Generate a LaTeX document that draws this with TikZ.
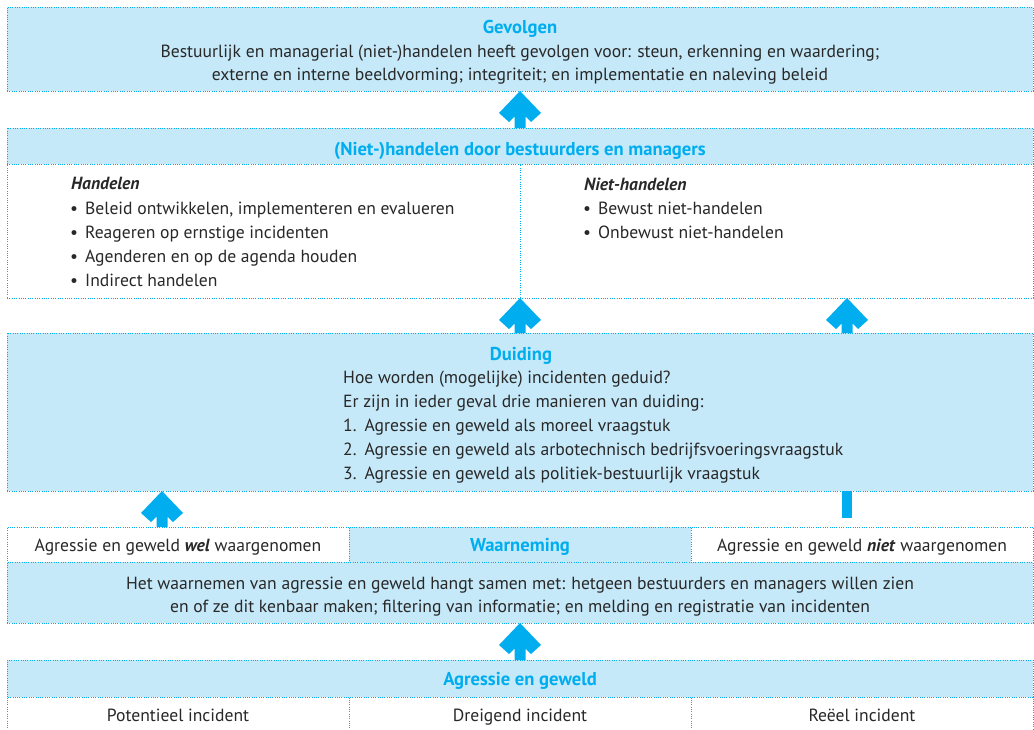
\documentclass[tikz,border=0pt]{standalone}
\usepackage{fontspec}
\setmainfont{PT Sans}
\usetikzlibrary{calc}
\definecolor{lblue}{RGB}{198,233,249}
\definecolor{tblue}{RGB}{0,174,239}
\definecolor{txt}{RGB}{40,40,40}
\tikzset{
  cell/.style={draw=tblue, dash pattern=on 0.9pt off 1.4pt, line width=0.8pt, inner sep=0pt, outer sep=0pt, anchor=north west},
  bluecell/.style={cell, fill=lblue},
  whitecell/.style={cell, fill=white},
  tx/.style={anchor=base, inner sep=0pt, text=txt, font=\fontsize{17.6}{24}\selectfont},
  txl/.style={tx, anchor=base west},
  ttl/.style={tx, text=tblue, font=\fontsize{18.6}{24}\selectfont\bfseries},
  sub/.style={txl, font=\fontsize{17.6}{24}\selectfont\bfseries\itshape},
  pics/uparr/.style={code={\fill[tblue] (0,0) -- (-21,22) -- (-11,31) -- (-5.5,25.5) -- (-5.5,#1) -- (5.5,#1) -- (5.5,25.5) -- (11,31) -- (21,22) -- cycle;}},
}
\begin{document}
\begin{tikzpicture}[x=1pt,y=-1pt]
\useasboundingbox (0,0) rectangle (1034,729);
% boxes
\node[bluecell, minimum width=1026pt, minimum height=84pt] (gev) at (7,7) {};
\node[bluecell, minimum width=1026pt, minimum height=36pt] (nhh) at (7,128) {};
\node[whitecell, minimum width=513pt, minimum height=134pt] (hand) at (7,164) {};
\node[whitecell, minimum width=513pt, minimum height=134pt] (niet) at (520,164) {};
\node[bluecell, minimum width=1026pt, minimum height=158pt] (duid) at (7,333) {};
\node[whitecell, minimum width=342pt, minimum height=35pt] (wel) at (7,527) {};
\node[bluecell, minimum width=342pt, minimum height=35pt] (waar) at (349,527) {};
\node[whitecell, minimum width=342pt, minimum height=35pt] (nwaar) at (691,527) {};
\node[bluecell, minimum width=1026pt, minimum height=61pt] (waart) at (7,562) {};
\node[bluecell, minimum width=1026pt, minimum height=37pt] (agr) at (7,660) {};
\node[whitecell, minimum width=342pt, minimum height=40pt] (pot) at (7,697) {};
\node[whitecell, minimum width=342pt, minimum height=40pt] (dre) at (349,697) {};
\node[whitecell, minimum width=342pt, minimum height=40pt] (ree) at (691,697) {};
% arrows
\pic at (gev.south) {uparr=37};
\pic at (hand.south east) {uparr=35};
\pic at ($(niet.south east)+(-186,0)$) {uparr=35};
\pic at ($(duid.south west)+(155,0)$) {uparr=36};
\fill[tblue] ($(duid.south east)+(-191,0)$) rectangle ($(duid.south east)+(-181,27)$);
\pic at (waart.south) {uparr=37};
% texts
\node[ttl] at (520,33) {Gevolgen};
\node[tx] at (520,57.3) {Bestuurlijk en managerial (niet-)handelen heeft gevolgen voor: steun, erkenning en waardering;};
\node[tx] at (520,80.5) {externe en interne beeldvorming; integriteit; en implementatie en naleving beleid};
\node[ttl] at (520,155) {(Niet-)handelen door bestuurders en managers};
\node[sub] at (71,189.5) {Handelen};
\node[txl] at (70,214.3) {•\hspace{7pt}Beleid ontwikkelen, implementeren en evalueren};
\node[txl] at (70,238.5) {•\hspace{7pt}Reageren op ernstige incidenten};
\node[txl] at (70,262.7) {•\hspace{7pt}Agenderen en op de agenda houden};
\node[txl] at (70,286.7) {•\hspace{7pt}Indirect handelen};
\node[sub] at (584,190.5) {Niet-handelen};
\node[txl] at (583,214.8) {•\hspace{7pt}Bewust niet-handelen};
\node[txl] at (583,238.5) {•\hspace{7pt}Onbewust niet-handelen};
\node[ttl] at (521,360) {Duiding};
\node[txl] at (343,383.3) {Hoe worden (mogelijke) incidenten geduid?};
\node[txl] at (343,407.3) {Er zijn in ieder geval drie manieren van duiding:};
\node[txl] at (343,431) {1.\hspace{8pt}Agressie en geweld als moreel vraagstuk};
\node[txl] at (343,455) {2.\hspace{8pt}Agressie en geweld als arbotechnisch bedrijfsvoeringsvraagstuk};
\node[txl] at (343,479) {3.\hspace{8pt}Agressie en geweld als politiek-bestuurlijk vraagstuk};
\node[tx] at (178,551.7) {Agressie en geweld \textbf{\itshape wel} waargenomen};
\node[ttl] at (520,551.7) {Waarneming};
\node[tx] at (862,551.7) {Agressie en geweld \textbf{\itshape niet} waargenomen};
\node[tx] at (520,589) {Het waarnemen van agressie en geweld hangt samen met: hetgeen bestuurders en managers willen zien};
\node[tx] at (520,612.3) {en of ze dit kenbaar maken; filtering van informatie; en melding en registratie van incidenten};
\node[ttl] at (520,685) {Agressie en geweld};
\node[tx] at (178,721) {Potentieel incident};
\node[tx] at (520,721) {Dreigend incident};
\node[tx] at (862,721) {Reëel incident};
\end{tikzpicture}
\end{document}
